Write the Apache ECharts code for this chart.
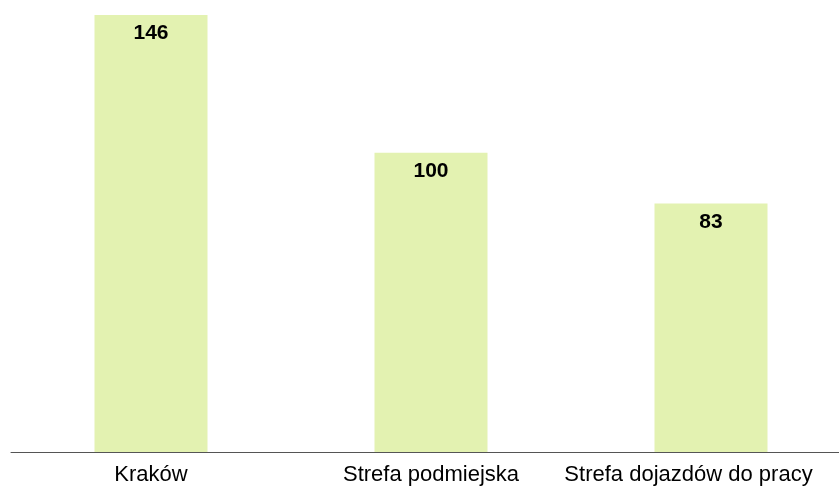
<!DOCTYPE html>
<html>
<head>
<meta charset="utf-8">
<script src="https://cdn.jsdelivr.net/npm/echarts@6/dist/echarts.min.js"></script>
<style>
  html, body { margin: 0; padding: 0; background: #fff; overflow: hidden; }
  /* the plot runs past the right edge of the window, like the original */
  #chart { width: 851px; height: 486px; }
</style>
</head>
<body>
<div id="chart"></div>
<script>
const categories = ['Kraków', 'Strefa podmiejska', 'Strefa dojazdów do pracy']
const values = [146, 100, 83]

const chart = echarts.init(document.getElementById('chart'))
const option = {
  animation: false,
  grid: { left: 11, right: 0, top: 3, bottom: 33 },
  xAxis: {
    type: 'category',
    data: categories,
    axisLine: { lineStyle: { color: '#555', width: 1 } },
    axisTick: { show: false },
    axisLabel: {
      color: '#000',
      fontFamily: 'Liberation Sans, Arial, sans-serif',
      fontSize: 22,
      margin: 12,
      interval: 0,
      // last label is pushed left to stay inside the window
      formatter: (v, i) => (i === categories.length - 1 ? '{last|' + v + '}' : v),
      rich: {
        last: {
          fontFamily: 'Liberation Sans, Arial, sans-serif',
          fontSize: 22,
          color: '#000',
          padding: [0, 45, 0, 0]
        }
      }
    }
  },
  yAxis: {
    type: 'value',
    min: 0,
    max: 150,
    show: false,
    splitLine: { show: false }
  },
  series: [
    {
      type: 'bar',
      data: values,
      barWidth: 113,
      itemStyle: { color: '#e3f2b1' },
      label: {
        show: true,
        position: 'insideTop',
        distance: 8,
        color: '#000',
        fontWeight: 'bold',
        fontSize: 21,
        fontFamily: 'Liberation Sans, Arial, sans-serif'
      }
    }
  ]
}
chart.setOption(option)
</script>
</body>
</html>
